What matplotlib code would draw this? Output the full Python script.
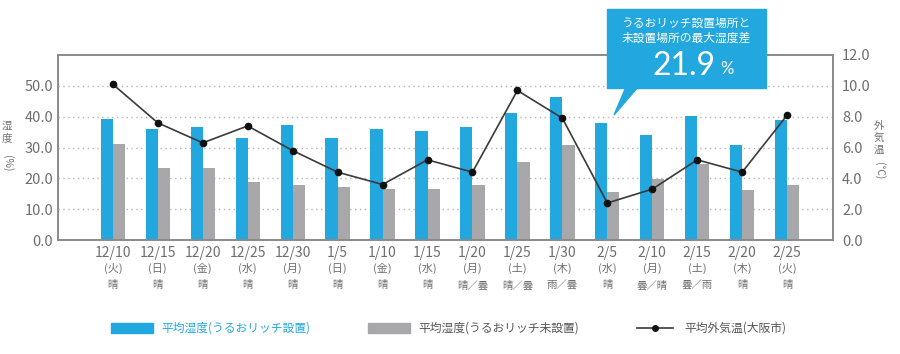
import matplotlib
matplotlib.use('Agg')
import matplotlib.pyplot as plt
from matplotlib.patches import Polygon, Rectangle
from matplotlib.lines import Line2D
import numpy as np

plt.rcParams['font.family'] = ['Noto Sans CJK JP', 'DejaVu Sans']

# --- DANE ---
dates = ['12/10', '12/15', '12/20', '12/25', '12/30', '1/5', '1/10', '1/15',
         '1/20', '1/25', '1/30', '2/5', '2/10', '2/15', '2/20', '2/25']
weekdays = ['(火)', '(日)', '(金)', '(水)', '(月)', '(日)', '(金)', '(水)',
            '(月)', '(土)', '(木)', '(水)', '(月)', '(土)', '(木)', '(火)']
weather = ['晴', '晴', '晴', '晴', '晴', '晴', '晴', '晴',
           '晴／曇', '晴／曇', '雨／曇', '晴', '曇／晴', '曇／雨', '晴', '晴']
hum_with = [39.2, 35.9, 36.8, 33.2, 37.2, 33.2, 36.1, 35.5,
            36.8, 41.1, 46.3, 37.9, 34.2, 40.3, 30.8, 38.9]
hum_without = [31.2, 23.5, 23.2, 18.7, 17.8, 17.1, 16.5, 16.5,
               17.8, 25.4, 30.8, 15.5, 19.7, 24.7, 16.1, 17.8]
temp = [10.1, 7.6, 6.3, 7.4, 5.8, 4.4, 3.6, 5.2,
        4.4, 9.7, 7.9, 2.4, 3.3, 5.2, 4.4, 8.1]

BLUE = '#22a7df'
GRAY = '#a8a8ab'
TXT = '#6e6e6e'
W, H = 900, 354


def fx(px):
    return px / W


def fy(py):
    return 1 - py / H


fig = plt.figure(figsize=(9, 3.54), dpi=100)
ax = fig.add_axes([fx(58), fy(240), fx(833 - 58), (240 - 55) / H])
ax2 = ax.twinx()

x = np.arange(len(dates))
w = 0.27
ax.bar(x - w / 2, hum_with, w, color=BLUE, zorder=2)
ax.bar(x + w / 2, hum_without, w, color=GRAY, zorder=2)
ax.set_ylim(0, 60)
ax.set_xlim(-1.22, len(dates) - 1 + 1.02)
ax.set_yticks(np.arange(0, 51, 10))
ax.set_yticklabels([f'{v:.1f}' for v in np.arange(0, 51, 10)])
for v in range(10, 51, 10):
    ax.axhline(v, color='#b5b5b5', lw=1, ls=(0, (1, 2.5)), zorder=1)

ax2.plot(x, temp, color='#3a3a3a', lw=1.2, marker='o', ms=4.5,
         markerfacecolor='#111111', markeredgecolor='#111111', zorder=3)
ax2.set_ylim(0, 12)
ax2.set_yticks(np.arange(0, 13, 2))
ax2.set_yticklabels([f'{v:.1f}' for v in np.arange(0, 13, 2)])

for a in (ax, ax2):
    for s in a.spines.values():
        s.set_color('#8a8a8a')
        s.set_linewidth(1.2)
    a.tick_params(length=0, labelsize=10.5, colors=TXT, pad=3.5)
ax2.tick_params(pad=6.5)

# etykiety osi X (trzy wiersze)
ax.set_xticks(x)
ax.set_xticklabels(dates)
ax.tick_params(axis='x', labelsize=10, pad=4)
tr = ax.get_xaxis_transform()
for i in range(len(dates)):
    ax.text(i, -0.153, weekdays[i], transform=tr, ha='center', va='center',
            fontsize=8, color=TXT)
    ax.text(i, -0.245, weather[i], transform=tr, ha='center', va='center',
            fontsize=7.5, color=TXT)

# opisy osi (pionowo)
fig.text(fx(7), fy(132), '湿\n度', ha='center', va='center', fontsize=7.5,
         color=TXT, linespacing=1.25)
fig.text(fx(7), fy(163), '(%)', ha='center', va='center', fontsize=7.5,
         color=TXT, rotation=-90)
fig.text(fx(879), fy(138), '外\n気\n温', ha='center', va='center', fontsize=7.5,
         color=TXT, linespacing=1.25)
fig.text(fx(879), fy(171), '(℃)', ha='center', va='center', fontsize=7.5,
         color=TXT, rotation=-90)

# dymek
fig.patches.append(Rectangle((fx(607), fy(88)), fx(766 - 607), 79 / H,
                             transform=fig.transFigure, color=BLUE, zorder=5))
fig.patches.append(Polygon([(fx(626), fy(87)), (fx(638), fy(87)), (fx(614), fy(115))],
                           closed=True, transform=fig.transFigure, color=BLUE, zorder=5))
cx = fx(686)
fig.text(cx, fy(23), 'うるおリッチ設置場所と', ha='center', va='center',
         fontsize=8.5, color='white', zorder=6)
fig.text(cx, fy(38), '未設置場所の最大湿度差', ha='center', va='center',
         fontsize=8.5, color='white', zorder=6)
fig.text(fx(716), fy(66), '21.9', ha='right', va='center', family='Lato',
         fontsize=23, color='white', zorder=6)
fig.text(fx(720), fy(69), '%', ha='left', va='center', family='Lato',
         fontsize=12, color='white', zorder=6)

# legenda
ly = fy(328)
fig.patches.append(Rectangle((fx(111), ly - 5 / H), fx(42), 10 / H,
                             transform=fig.transFigure, color=BLUE))
fig.text(fx(161), ly, '平均湿度(うるおリッチ設置)', ha='left', va='center',
         fontsize=8.5, color=BLUE)
fig.patches.append(Rectangle((fx(368), ly - 5 / H), fx(42), 10 / H,
                             transform=fig.transFigure, color=GRAY))
fig.text(fx(418), ly, '平均湿度(うるおリッチ未設置)', ha='left', va='center',
         fontsize=8.5, color='#555555')
fig.lines.append(Line2D([fx(637), fx(673)], [ly, ly], transform=fig.transFigure,
                        color='#3a3a3a', lw=1.2))
fig.lines.append(Line2D([fx(655)], [ly], transform=fig.transFigure,
                        color='#111111', marker='o', ms=4, lw=0))
fig.text(fx(684), ly, '平均外気温(大阪市)', ha='left', va='center',
         fontsize=8.5, color='#555555')

fig.savefig('out.png', dpi=100)
